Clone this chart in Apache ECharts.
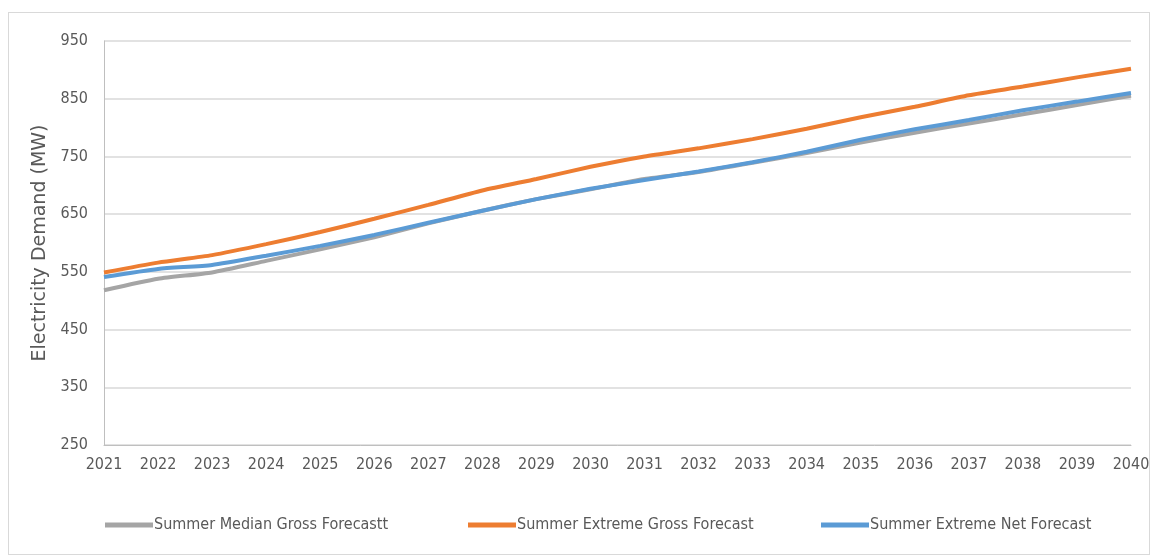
<!DOCTYPE html>
<html>
<head>
<meta charset="utf-8">
<script src="https://cdn.jsdelivr.net/npm/echarts@6/dist/echarts.min.js"></script>
<style>
  html, body { margin: 0; padding: 0; background: #fff; }
  #frame {
    position: absolute; left: 8px; top: 12px; width: 1142px; height: 543px;
    border: 1px solid #d9d9d9; box-sizing: border-box;
  }
  #chart { position: absolute; left: 0; top: 0; width: 1155px; height: 559px; }
</style>
</head>
<body>
<div id="frame"></div>
<div id="chart"></div>
<script>
var years = ['2021', '2022', '2023', '2024', '2025', '2026', '2027', '2028', '2029', '2030',
  '2031', '2032', '2033', '2034', '2035', '2036', '2037', '2038', '2039', '2040']
var medianGross = [518, 538, 549, 569, 589, 610, 634, 656, 676, 693, 711, 723, 739, 756, 774, 791, 807, 823, 839, 855]
var extremeGross = [549, 566, 579, 598, 619, 642, 666, 691, 711, 732, 750, 764, 780, 798, 818, 836, 856, 871, 887, 902]
var extremeNet = [541, 555, 562, 578, 595, 614, 635, 656, 676, 694, 709, 724, 740, 758, 779, 797, 813, 830, 845, 860]

var font = '"Liberation Sans Narrow", "DejaVu Sans Condensed", sans-serif'
var chart = echarts.init(document.getElementById('chart'))

function legendAt(name, left) {
  return {
    data: [name],
    left: left,
    top: 512,
    itemWidth: 48,
    itemHeight: 5,
    itemGap: 0,
    icon: 'rect',
    textStyle: {color: '#595959', fontSize: 16, fontFamily: font, padding: [0, 0, 0, -4]}
  }
}

var option = {
  animation: false,
  grid: {left: 104, right: 24, top: 41, bottom: 114},
  legend: [
    legendAt('Summer Median Gross Forecastt', 100),
    legendAt('Summer Extreme Gross Forecast', 463),
    legendAt('Summer Extreme Net Forecast', 816)
  ],
  xAxis: {
    type: 'category',
    data: years,
    boundaryGap: false,
    axisLine: {lineStyle: {color: '#bfbfbf', width: 1}},
    axisTick: {show: false},
    axisLabel: {color: '#595959', fontSize: 16, fontFamily: font, margin: 12}
  },
  yAxis: {
    type: 'value',
    min: 250,
    max: 950,
    interval: 100,
    name: 'Electricity Demand (MW)',
    nameLocation: 'middle',
    nameGap: 49,
    nameTextStyle: {color: '#595959', fontSize: 19, fontFamily: '"DejaVu Sans", sans-serif'},
    axisLine: {show: true, lineStyle: {color: '#bfbfbf'}},
    axisTick: {show: false},
    splitLine: {lineStyle: {color: '#d9d9d9', width: 1.5}},
    axisLabel: {color: '#595959', fontSize: 16, fontFamily: font, margin: 16}
  },
  series: [
    {
      name: 'Summer Median Gross Forecastt',
      type: 'line',
      data: medianGross,
      showSymbol: false,
      smooth: 0.2,
      itemStyle: {color: '#a5a5a5'},
      lineStyle: {color: '#a5a5a5', width: 4}
    },
    {
      name: 'Summer Extreme Gross Forecast',
      type: 'line',
      data: extremeGross,
      showSymbol: false,
      smooth: 0.2,
      itemStyle: {color: '#ed7d31'},
      lineStyle: {color: '#ed7d31', width: 4}
    },
    {
      name: 'Summer Extreme Net Forecast',
      type: 'line',
      data: extremeNet,
      showSymbol: false,
      smooth: 0.2,
      itemStyle: {color: '#5b9bd5'},
      lineStyle: {color: '#5b9bd5', width: 4}
    }
  ]
}
chart.setOption(option)
</script>
</body>
</html>
